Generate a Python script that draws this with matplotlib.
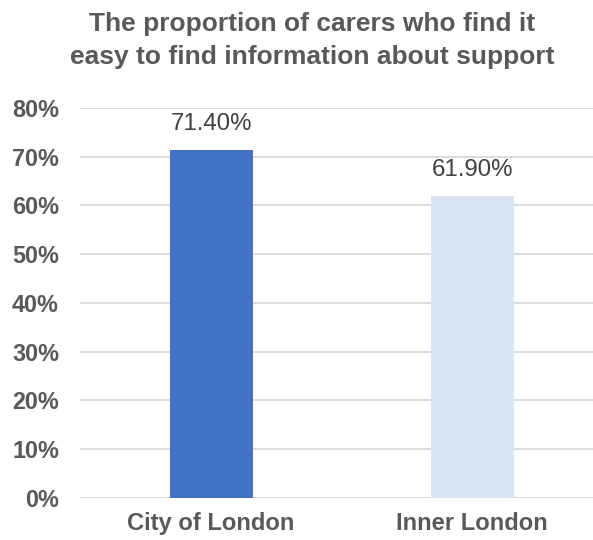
import matplotlib.pyplot as plt
from matplotlib.ticker import FuncFormatter

# Data
categories = ["City of London", "Inner London"]
values = [71.4, 61.9]
bar_colors = ["#4472C4", "#DAE3F3"]
y_ticks = [0, 10, 20, 30, 40, 50, 60, 70, 80]

plt.rcParams["font.family"] = ["Liberation Sans", "DejaVu Sans"]
text_color = "#595959"

fig = plt.figure(figsize=(5.93, 5.40), dpi=100)
ax = fig.add_axes([0.1357, 0.0778, 0.8643, 0.7222])

x = list(range(len(categories)))
bars = ax.bar(x, values, width=0.318, color=bar_colors, zorder=3)

for b, v in zip(bars, values):
    ax.annotate(f"{v:.2f}%", (b.get_x() + b.get_width() / 2, v),
                xytext=(0, 11), textcoords="offset points",
                ha="center", va="bottom", fontsize=17.3, color="#404040")

ax.set_xlim(-0.5, 1.463)
ax.set_ylim(0, 80)
ax.set_yticks(y_ticks)
ax.yaxis.set_major_formatter(FuncFormatter(lambda v, p: f"{v:.0f}%"))
ax.set_xticks(x)
ax.set_xticklabels(categories)

ax.grid(axis="y", color="#D9D9D9", linewidth=1.3, zorder=0)
for s in ax.spines.values():
    s.set_visible(False)
ax.tick_params(axis="y", length=0, labelsize=16.8, labelcolor=text_color, pad=15.5)
ax.tick_params(axis="x", length=0, labelsize=17.1, labelcolor=text_color, pad=10)
for lbl in ax.get_xticklabels() + ax.get_yticklabels():
    lbl.set_fontweight("bold")

fig.text(0.526, 0.978, "The proportion of carers who find it\neasy to find information about support",
         ha="center", va="top", fontsize=19, fontweight="bold",
         color=text_color, linespacing=1.47)

fig.savefig("out.png", dpi=100)
